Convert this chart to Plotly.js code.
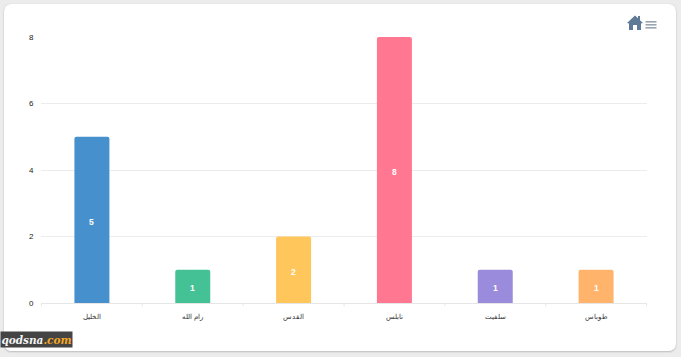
<!DOCTYPE html>
<html><head><meta charset="utf-8">
<script src="https://cdn.plot.ly/plotly-3.0.1.min.js"></script>
<style>
html,body{margin:0;padding:0;width:681px;height:357px;overflow:hidden;background:#ececec}
#card{position:absolute;left:4px;top:4px;width:672px;height:347px;background:#fff;border-radius:7px;box-shadow:0 1px 2px #bdbdbd,0 0 1px #c8c8c8}
#chart{position:absolute;left:0;top:0;width:681px;height:357px}
#icons{position:absolute;left:627px;top:15px}
</style></head><body>
<div id="card"></div>
<div id="chart"></div>
<svg id="icons" width="32" height="16" viewBox="0 0 32 16">
<path d="M0 8 L8 0.5 L11 3.3 V1 H13 V5.2 L16 8 L14 8.6 V15 H10 V10 H6 V15 H2 V8.6 Z" fill="#5f7a96"/>
<rect x="18.5" y="6" width="11" height="1.6" fill="#98a5b2"/>
<rect x="18.5" y="9" width="11" height="1.6" fill="#98a5b2"/>
<rect x="18.5" y="12" width="11" height="1.6" fill="#98a5b2"/>
</svg>
<script>
const categories = ["الخليل","رام الله","القدس","نابلس","سلفيت","طوباس"];
const values = [5,1,2,8,1,1];
const barColors = ["#4690cd","#45c196","#ffc65c","#ff7790","#9b8bdc","#ffb36b"];
const yTicks = [0,2,4,6,8];

const valueLabels = categories.map((c,i)=>({
  xref:"x",yref:"y",x:c,y:values[i]/2,yshift:-2,showarrow:false,
  text:String(values[i]),
  font:{family:"Liberation Sans, Arial, sans-serif",size:8.5,color:"#fff",weight:"bold"}
}));

Plotly.newPlot("chart",[{
  type:"bar",x:categories,y:values,
  width:0.347,
  marker:{color:barColors,cornerradius:2,line:{width:0}},
  hoverinfo:"x+y"
}],{
  width:681,height:357,
  margin:{l:41,r:34,t:37,b:54,pad:0},
  paper_bgcolor:"rgba(0,0,0,0)",plot_bgcolor:"rgba(0,0,0,0)",
  showlegend:false,
  font:{family:"Liberation Sans, Arial, sans-serif",size:8,color:"#222"},
  xaxis:{type:"category",tickmode:"array",tickvals:categories,ticktext:categories,
    showgrid:false,zeroline:false,showline:true,linecolor:"#e6e6e6",linewidth:1,
    ticks:"outside",ticklen:7,tickcolor:"rgba(0,0,0,0)",tickfont:{size:7,color:"#333"},fixedrange:true},
  yaxis:{range:[0,8],tickmode:"array",tickvals:yTicks,ticktext:yTicks.map(String),
    gridcolor:"#ececec",gridwidth:1,zeroline:false,showline:false,
    ticks:"outside",ticklen:5,tickcolor:"rgba(0,0,0,0)",
    tickfont:{size:8,color:"#222"},fixedrange:true},
  shapes:[0,1,2,3,4,5,6].map(i=>({type:"line",xref:"x",yref:"paper",x0:i-0.5,x1:i-0.5,y0:0,y1:-0.012,line:{color:"#e6e6e6",width:1}})),
  annotations:valueLabels.concat([{xref:"paper",yref:"paper",x:-0.0677,y:-0.169,xanchor:"left",yanchor:"bottom",showarrow:false,
    text:'qodsna<span style="color:#f5a623">.com</span>',
    width:71,height:15,borderpad:0,align:"center",valign:"middle",
    font:{family:"DejaVu Serif, serif",size:10.5,color:"#f4f4f4",weight:"bold",style:"italic"},
    bgcolor:"#444"}])
},{displayModeBar:false,staticPlot:true});
</script></body></html>
